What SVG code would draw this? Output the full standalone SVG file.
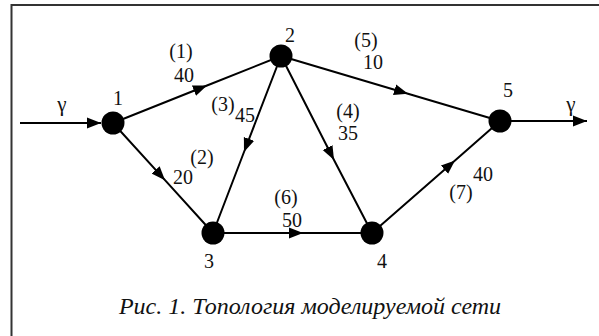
<svg xmlns="http://www.w3.org/2000/svg" width="599" height="336" viewBox="0 0 599 336">
<style>
.frame{fill:none;stroke:#333;stroke-width:2}
.edge{fill:none;stroke:#000;stroke-width:2;marker-mid:url(#ah)}
.io{fill:none;stroke:#000;stroke-width:2;marker-end:url(#ah)}
.node circle{fill:#000}
text{font-family:"Liberation Serif","Times New Roman",serif;font-size:20px;fill:#111;text-anchor:middle}
.cap{font-style:italic;font-size:24px}
.g{font-size:21px}
</style>
<defs>
<marker id="ah" markerUnits="userSpaceOnUse" markerWidth="16" markerHeight="12" refX="14" refY="6" orient="auto" viewBox="0 0 16 12">
<path d="M14,6 L0,0.5 L0,11.5 z" fill="#000"/>
</marker>
</defs>
<path class="frame" d="M11.5,336 V5 H599"/>
<g id="connectors">
<path class="io" d="M20,123 L101,123"/>
<path class="io" d="M500,121 L587,121"/>
<path class="edge" d="M113,123 L207,85.5 L281,56"/>
<path class="edge" d="M113,123 L165,180.2 L213,233"/>
<path class="edge" d="M281,56 L244,152 L213,233"/>
<path class="edge" d="M281,56 L334,160 L372,233"/>
<path class="edge" d="M281,56 L408,93.7 L500,121"/>
<path class="edge" d="M213,233 L303,233 L372,233"/>
<path class="edge" d="M372,233 L455,160.4 L500,121"/>
</g>
<g id="n1" class="node"><circle cx="113" cy="123" r="11.5"/><text x="118" y="105">1</text></g>
<g id="n2" class="node"><circle cx="281" cy="56" r="11.5"/><text x="290" y="42">2</text></g>
<g id="n3" class="node"><circle cx="213" cy="233" r="11.5"/><text x="209" y="268">3</text></g>
<g id="n4" class="node"><circle cx="372" cy="233" r="11.5"/><text x="382" y="268">4</text></g>
<g id="n5" class="node"><circle cx="500" cy="121" r="11.5"/><text x="508" y="97">5</text></g>
<g id="labels">
<text class="g" x="62" y="111">γ</text>
<text class="g" x="571" y="111">γ</text>
<text x="181" y="58">(1)</text>
<text x="184" y="82">40</text>
<text x="223" y="111">(3)</text>
<text x="245" y="122">45</text>
<text x="202" y="164">(2)</text>
<text x="183" y="184">20</text>
<text x="366" y="47">(5)</text>
<text x="373" y="69">10</text>
<text x="348" y="118">(4)</text>
<text x="348" y="140">35</text>
<text x="286" y="204">(6)</text>
<text x="292" y="227">50</text>
<text x="483" y="181">40</text>
<text x="461" y="199">(7)</text>
</g>
<text class="cap" x="310" y="314">Рис. 1. Топология моделируемой сети</text>
</svg>
